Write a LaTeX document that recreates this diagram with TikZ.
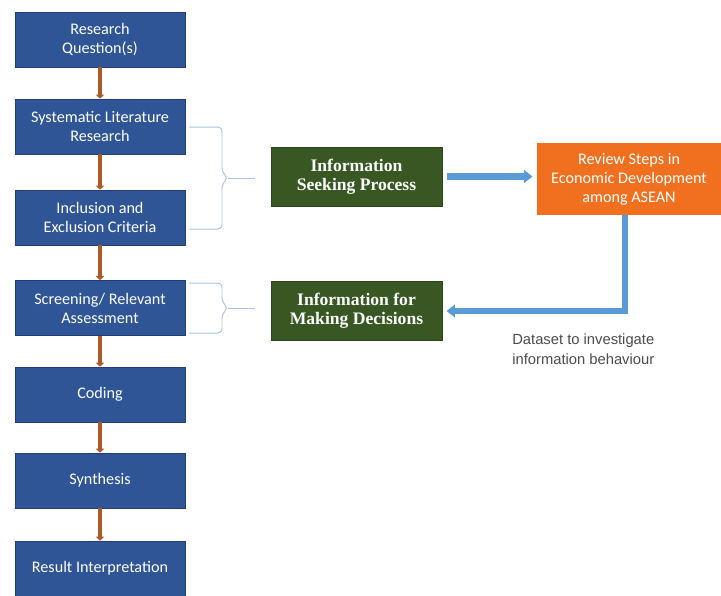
\documentclass[tikz,border=0pt]{standalone}
\usepackage{fontspec}
\newfontfamily\calibrifont{Carlito}
\newfontfamily\arialfont{Liberation Sans}
\newfontfamily\timesfont{Liberation Serif}
\usetikzlibrary{arrows.meta}
\definecolor{stepblue}{RGB}{47,85,151}
\definecolor{stepedge}{RGB}{33,63,118}
\definecolor{infogreen}{RGB}{56,87,35}
\definecolor{revorange}{RGB}{240,112,32}
\definecolor{flowblue}{RGB}{91,155,213}
\definecolor{linkbrown}{RGB}{170,90,38}
\definecolor{bracegray}{RGB}{168,196,224}
\tikzset{
        stepbox/.style = {rectangle, draw=stepedge, fill=stepblue, text=white,
            minimum width=4.25cm, minimum height=1.375cm, align=center,
            font=\calibrifont\fontsize{11.5}{13.5}\selectfont},
        infobox/.style = {rectangle, draw=infogreen!80!black, fill=infogreen, text=white,
            minimum width=4.275cm, minimum height=1.475cm, align=center,
            font=\timesfont\fontsize{12.5}{13.5}\selectfont\bfseries},
        revbox/.style = {rectangle, fill=revorange, text=white,
            minimum width=4.6cm, minimum height=1.8cm, align=center,
            font=\calibrifont\fontsize{11.5}{13.5}\selectfont},
        datatext/.style = {align=left, text=black!70, inner sep=0pt,
            font=\arialfont\fontsize{10.5}{14}\selectfont},
        steplink/.style = {linkbrown, line width=2.6pt, -{Triangle[width=6pt,length=3pt]}},
        flowlink/.style = {flowblue, line width=4.3pt, -{Triangle[width=9pt,length=6pt]}},
        bracket/.style = {bracegray, line width=0.7pt, rounded corners=3pt}
    }
\begin{document}
\begin{tikzpicture}[x=0.025cm, y=-0.025cm]
    \useasboundingbox (0,0) rectangle (721,595);
    % review steps
    \node [stepbox] (rq)  at (100,39.5)  {Research\\Question(s)};
    \node [stepbox] (slr) at (100,126.5) {Systematic Literature\\Research};
    \node [stepbox] (iec) at (100,217.5) {Inclusion and\\Exclusion Criteria};
    \node [stepbox] (scr) at (100,308)   {Screening/ Relevant\\Assessment};
    \node [stepbox] (cod) at (100,394.5) {Coding};
    \node [stepbox] (syn) at (100,480.5) {Synthesis};
    \node [stepbox] (res) at (100,568.5) {Result Interpretation};
    \foreach \a/\b in {rq/slr, slr/iec, iec/scr, scr/cod, cod/syn, syn/res}
        \draw [steplink] (\a) -- (\b);
    % information boxes
    \node [infobox] (isp) at (356.5,176.5) {Information\\Seeking Process};
    \node [infobox] (imd) at (356.5,311)   {Information for\\Making Decisions};
    \node [revbox]  (rev) at (629,179)     {Review Steps in\\Economic Development\\among ASEAN};
    \node [datatext, anchor=west] (dset) at (512,349)
        {Dataset to investigate\\information behaviour};
    \draw [flowlink, shorten <=3pt, shorten >=3pt] (isp.east) -- (isp.east -| rev.west);
    \draw [flowlink, shorten >=3pt] ([xshift=-3pt]rev.south) |- (imd.east);
    % brackets
    \coordinate (tip1) at (228,178);
    \coordinate (tip2) at (228,308);
    \draw [bracket] (189,127) -- (222,127) -- (222,172) -- (tip1) -- (222,184)
        -- (222,229) -- (189,229);
    \draw [bracket] (tip1) -- (255,178);
    \draw [bracket] (189,283) -- (222,283) -- (222,302) -- (tip2) -- (222,314)
        -- (222,333) -- (189,333);
    \draw [bracket] (tip2) -- (255,308);
\end{tikzpicture}
\end{document}
